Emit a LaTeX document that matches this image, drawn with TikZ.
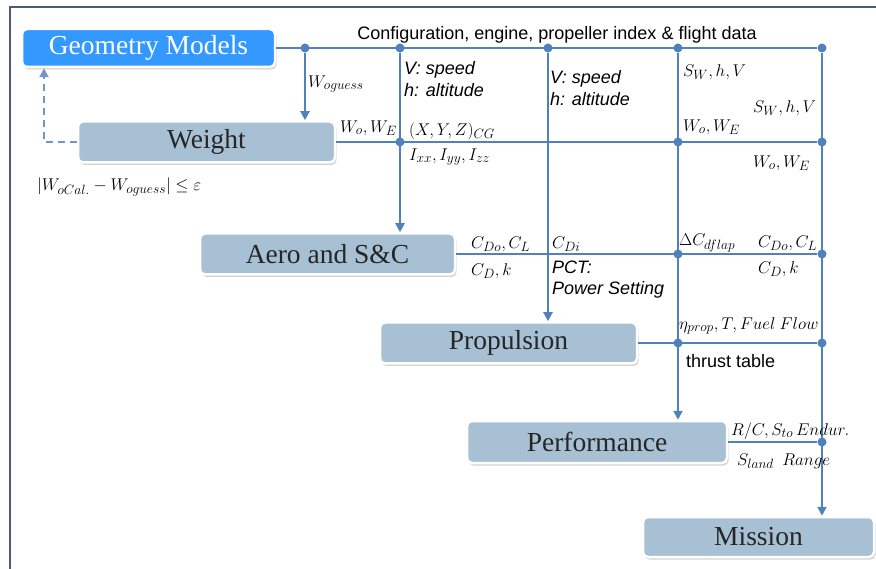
\RequirePackage{fix-cm}
\documentclass[tikz,border=0pt]{standalone}
\usepackage{fontspec}
\setmainfont{Liberation Serif}
\setsansfont{Liberation Sans}
\usepackage{tikz}
\usetikzlibrary{arrows.meta,shadows,positioning}
\DeclareMathSizes{17}{17}{13.5}{10}
\definecolor{wireblue}{RGB}{79,129,189}
\definecolor{dashblue}{RGB}{110,150,200}
\definecolor{boxgray}{RGB}{168,192,212}
\definecolor{geoblue}{RGB}{51,153,255}
\definecolor{framegray}{RGB}{72,92,122}
\tikzset{
  modbox/.style = {rectangle, rounded corners=5pt, fill=boxgray, draw=white, line width=2.5pt,
                   font=\fontsize{27.5}{29}\selectfont, text=black!85,
                   drop shadow={shadow xshift=1.5pt, shadow yshift=-2.5pt, fill=black!35, opacity=0.5}},
  junc/.style   = {circle, fill=wireblue, inner sep=0pt, minimum size=9pt},
  wire/.style   = {wireblue, line width=2pt},
  feed/.style   = {wire, -{Triangle[length=9pt,width=9pt]}},
  mlab/.style   = {anchor=west, inner sep=1pt, font=\fontsize{17}{20}\selectfont},
  slab/.style   = {anchor=west, inner sep=1pt, align=left,
                   font=\sffamily\itshape\fontsize{18}{22}\selectfont},
}
\begin{document}
\begin{tikzpicture}[x=1pt,y=-1pt]
\useasboundingbox (0,0) rectangle (876,569);
\draw[framegray, line width=2.5pt] (10,569) -- (10,7) -- (876,7);

% modules
\node[modbox, fill=geoblue, text=white, minimum width=253pt, minimum height=38pt] (geo) at (148.5,48) {Geometry Models};
\node[modbox, minimum width=257pt, minimum height=41pt] (wgt) at (206.5,142) {Weight};
\node[modbox, minimum width=255pt, minimum height=41pt] (aero) at (327.5,254) {Aero and S\&C};
\node[modbox, minimum width=257pt, minimum height=41pt] (prop) at (508.5,343) {Propulsion};
\node[modbox, minimum width=260pt, minimum height=42pt] (perf) at (597,442) {Performance};
\node[modbox, minimum width=231pt, minimum height=40pt] (miss) at (758.5,537) {Mission};

% junctions
\node[junc] (t1) at (305,48) {};
\node[junc] (t2) at (400,48) {};
\node[junc] (t3) at (548,48) {};
\node[junc] (t4) at (678,48) {};
\node[junc] (t5) at (822,48) {};
\node[junc] (w2) at (400,142) {};
\node[junc] (w4) at (678,142) {};
\node[junc] (w5) at (822,142) {};
\node[junc] (a4) at (678,254) {};
\node[junc] (a5) at (822,254) {};
\node[junc] (p4) at (678,343) {};
\node[junc] (p5) at (822,343) {};
\node[junc] (f5) at (822,442) {};

% data lines
\draw[wire] (geo) -- (t5);
\draw[wire] (wgt) -- (w5);
\draw[wire] (aero) -- (a5);
\draw[wire] (prop) -- (p5);
\draw[wire] (perf) -- (f5);
\draw[feed] (t1) -- (t1 |- wgt.north);
\draw[feed] (t2) -- (t2 |- aero.north);
\draw[feed] (t3) -- (t3 |- prop.north);
\draw[feed] (t4) -- (t4 |- perf.north);
\draw[feed] (t5) -- (t5 |- miss.north);
\coordinate (back) at (44,142);
\draw[dashblue, line width=2pt, dash pattern=on 7pt off 5pt, -{Triangle[length=9pt,width=9pt]}] (wgt) -- (back) -- (back |- geo.south);

% labels
\node[anchor=base, inner sep=0pt, font=\sffamily\fontsize{18}{20}\selectfont] (cfg) at (557,40) {Configuration, engine, propeller index \& flight data};
\node[mlab] (wguess) at (307,84) {$W_{oguess}$};
\node[slab] (vh1) at (403,79) {V: speed\\h: altitude};
\node[slab] (vh2) at (549,88) {V: speed\\h: altitude};
\node[mlab] (wwe1) at (339,128) {$W_o, W_E$};
\node[mlab] (xyz) at (408,131) {$(X, Y, Z)_{CG}$};
\node[mlab] (inert) at (408,157) {$I_{xx}, I_{yy}, I_{zz}$};
\node[mlab] (shv1) at (682,72) {$S_W, h, V$};
\node[mlab] (shv2) at (752,108) {$S_W, h, V$};
\node[mlab] (wwe2) at (682,127) {$W_o, W_E$};
\node[mlab] (wwe3) at (752,163) {$W_o, W_E$};
\node[mlab] (conv) at (36,187) {$\bigl| W_{oCal.} - W_{oguess}\bigr| \leq \varepsilon$};
\node[mlab] (cdo1) at (470,244) {$C_{Do}, C_L$};
\node[mlab] (cdk1) at (470,271) {$C_D, k$};
\node[mlab] (cdi) at (551,244) {$C_{Di}$};
\node[slab, font=\sffamily\itshape\fontsize{18}{21}\selectfont] (pct) at (551,280) {PCT:\\Power Setting};
\node[mlab] (flap) at (678,243) {$\Delta C_{dflap}$};
\node[mlab] (cdo2) at (757,243) {$C_{Do}, C_L$};
\node[mlab] (cdk2) at (757,269) {$C_D, k$};
\node[mlab] (eta) at (678,326) {$\eta_{prop}, T, Fuel\ Flow$};
\node[anchor=west, inner sep=1pt, font=\sffamily\fontsize{18}{20}\selectfont] (thr) at (685,361) {thrust table};
\node[mlab] (rc) at (730,431) {$R/C, S_{to}\,Endur.$};
\node[mlab] (land) at (736,461) {$S_{land}\ \ Range$};
\end{tikzpicture}
\end{document}
